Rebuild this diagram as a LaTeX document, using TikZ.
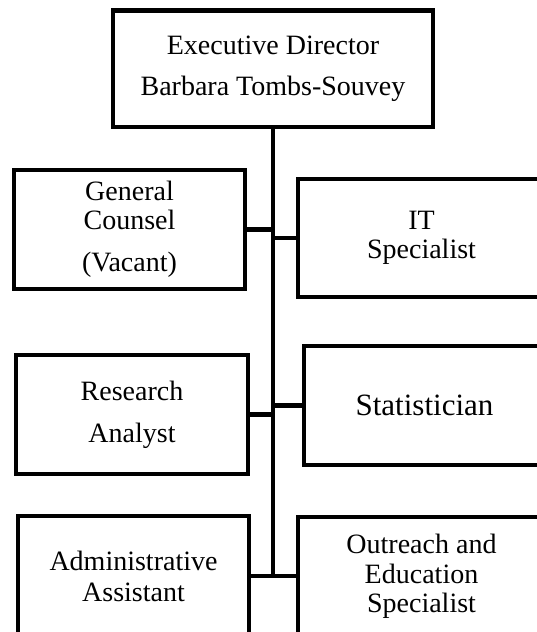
\documentclass[tikz,border=0pt]{standalone}
\usepackage{fontspec}
\setmainfont{Liberation Serif}
\usetikzlibrary{calc}

\tikzset{
	post/.style={draw, rectangle, line width=4.6pt, align=center, inner sep=0pt, font=\fontsize{28}{29}\selectfont},
	link/.style={line width=4.2pt}
}

\begin{document}
\begin{tikzpicture}[x=1pt, y=-1pt]
		%%%%% START %%%%%
		
		\useasboundingbox (0, 0) rectangle (537, 632);
		\clip (0, 0) rectangle (537, 632);
		
		\node[post, minimum width=320pt, minimum height=116.5pt] (director) at (273, 68.75) {Executive Director\\[12pt]Barbara Tombs-Souvey};
		
		\node[post, minimum width=231pt, minimum height=119pt] (counsel) at (129.5, 229.5) {General\\Counsel\\[13pt](Vacant)};
		\node[post, minimum width=247pt, minimum height=118pt] (itspec) at (421.5, 238) {IT\\Specialist};
		
		\node[post, minimum width=232pt, minimum height=119pt] (research) at (132, 414.5) {Research\\[13pt]Analyst};
		\node[post, minimum width=241pt, minimum height=119pt, font=\fontsize{31}{32}\selectfont] (stats) at (424.5, 405.5) {Statistician};
		
		\node[post, minimum width=231pt, minimum height=120pt] (admin) at (133.5, 576) {Administrative\\[2pt]Assistant};
		\node[post, minimum width=247pt, minimum height=119pt] (outreach) at (421.5, 576.5) {Outreach and\\[0.5pt]Education\\Specialist};
		
		% trunk
		\draw[link] (director.south) -- (director.south |- admin.east);
		
		\draw[link] (counsel.east) -- (counsel.east -| director.south);
		\draw[link] (itspec.west) -- (itspec.west -| director.south);
		\draw[link] (research.east) -- (research.east -| director.south);
		\draw[link] (stats.west) -- (stats.west -| director.south);
		\draw[link] (admin.east) -- (outreach.west |- admin.east);
		
		%%%%% END %%%%%
	\end{tikzpicture}
\end{document}
